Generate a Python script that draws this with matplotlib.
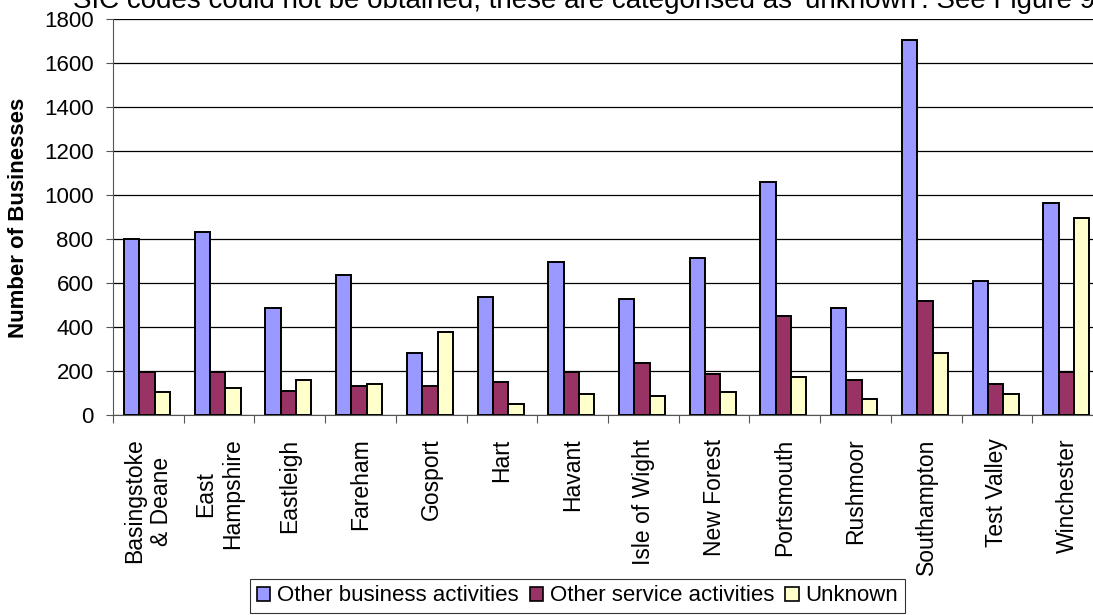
import numpy as np
import matplotlib
matplotlib.use("Agg")
from matplotlib import pyplot as plt
from matplotlib.patches import Patch

plt.rcParams['font.family'] = ['Liberation Sans', 'DejaVu Sans']

# districts and counts
districts = ['Basingstoke\n& Deane', 'East\nHampshire', 'Eastleigh', 'Fareham', 'Gosport',
             'Hart', 'Havant', 'Isle of Wight', 'New Forest', 'Portsmouth', 'Rushmoor',
             'Southampton', 'Test Valley', 'Winchester']
business = [800, 835, 489, 636, 280, 538, 695, 529, 715, 1061, 489, 1705, 609, 967]
service = [194, 194, 108, 132, 132, 149, 194, 237, 185, 449, 158, 520, 142, 194]
unknown = [106, 123, 158, 142, 376, 52, 97, 88, 106, 175, 71, 280, 97, 897]

series_names = ['Other business activities', 'Other service activities', 'Unknown']
colours = ['#9999FF', '#993366', '#FFFFCC']

fig = plt.figure(figsize=(10.93, 6.15), dpi=100)
ax = fig.add_axes([0.1034, 0.3252, 0.9058, 0.6431])

x = np.arange(len(districts))
w = 0.217
for i, vals in enumerate([business, service, unknown]):
    ax.bar(x + (i - 1) * w - 0.02, vals, width=w, color=colours[i], edgecolor='black',
           linewidth=1.4, zorder=3)

ax.set_xlim(-0.5, len(districts) - 0.5)
ax.set_ylim(0, 1800)
ax.set_yticks(range(0, 1801, 200))
ax.yaxis.grid(True, color='black', linewidth=0.9, zorder=0)

# ticks sit on the category boundaries, labels at the centres
ax.set_xticks(np.arange(len(districts) + 1) - 0.5)
ax.set_xticklabels([])
ax.set_xticks(x, minor=True)
ax.set_xticklabels(districts, minor=True, rotation=90, fontsize=16.5, multialignment='center')
ax.tick_params(axis='x', which='minor', length=0, pad=17)
ax.tick_params(axis='x', which='major', length=6, direction='out', color='#555555')
ax.tick_params(axis='y', length=5, direction='out', labelsize=16, pad=9, color='#555555')

for s in ['top', 'right']:
    ax.spines[s].set_visible(False)
ax.spines['left'].set_color('#555555')
ax.spines['bottom'].set_color('#555555')

fig.text(19 / 1093, 0.646, 'Number of Businesses', fontsize=16, fontweight='bold',
         rotation=90, ha='center', va='center')

handles = [Patch(facecolor=c, edgecolor='black', linewidth=1.2) for c in colours]
leg = fig.legend(handles, series_names, loc='center', bbox_to_anchor=(0.5284, 0.031),
                 ncol=3, fontsize=16, frameon=True, fancybox=False, handlelength=0.6,
                 handleheight=0.6, handletextpad=0.3, columnspacing=0.5, borderpad=0.3,
                 borderaxespad=0)
leg.get_frame().set_edgecolor('black')
leg.get_frame().set_linewidth(0.8)

# body text above the chart, cut off by the top of the image
fig.text(73 / 1093, 1 - 8 / 615, "SIC codes could not be obtained, these are categorised as 'unknown'. See Figure 9",
         fontsize=20, va='baseline', ha='left')

fig.savefig('out.png', dpi=100)
